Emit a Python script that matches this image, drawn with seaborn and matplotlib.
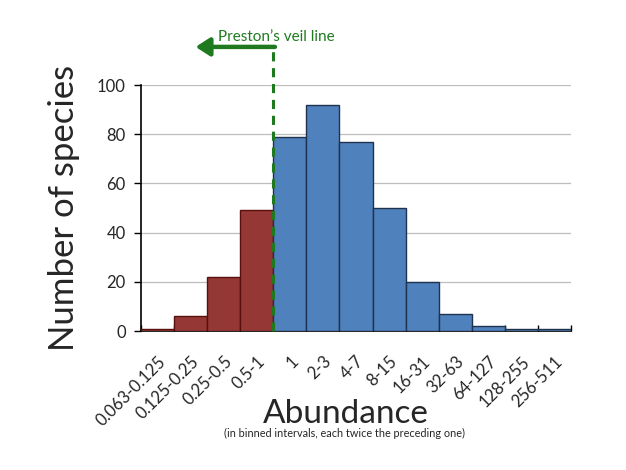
import matplotlib
matplotlib.use("Agg")
import matplotlib.pyplot as plt
import seaborn as sns
import pandas as pd

categories = ["0.063-0.125", "0.125-0.25", "0.25-0.5", "0.5-1", "1", "2-3", "4-7",
              "8-15", "16-31", "32-63", "64-127", "128-255", "256-511"]
species = [1, 6, 22, 49, 79, 92, 77, 50, 20, 7, 2, 1, 1]
groups = ["veiled"] * 4 + ["observed"] * 9

df = pd.DataFrame({"Abundance": categories, "Species": species, "Group": groups})

sns.set_theme(style="white")
plt.rcParams["font.family"] = ["Lato", "DejaVu Sans"]

fig = plt.figure(figsize=(6.26, 4.70), dpi=100)
ax = fig.add_axes([0.2252, 0.2957, 0.6869, 0.5234])

palette = {"veiled": "#953735", "observed": "#4F81BD"}
edges = {"veiled": "#5a0f0f", "observed": "#1f3350"}
sns.barplot(data=df, x="Abundance", y="Species", hue="Group", palette=palette,
            dodge=False, width=1.0, saturation=1, legend=False, ax=ax, zorder=3)
for patch, g in zip(ax.patches, groups):
    patch.set_edgecolor(edges[g])
    patch.set_linewidth(1.0)

ax.set_xlim(-0.5, len(categories) - 0.5)
ax.set_ylim(0, 100)
ax.set_yticks([0, 20, 40, 60, 80, 100])
ax.yaxis.grid(True, color="#bdbdbd", linewidth=0.9, zorder=0)
ax.set_axisbelow(True)
for s in ["top", "right"]:
    ax.spines[s].set_visible(False)
for s in ["left", "bottom"]:
    ax.spines[s].set_color("black")
    ax.spines[s].set_linewidth(1.2)

ax.tick_params(axis="y", direction="out", length=5, width=1, color="black",
               labelsize=12, pad=6, left=True)
ax.tick_params(axis="x", length=0, pad=16)
ax.set_xticks(range(len(categories)))
ax.set_xticklabels(categories, rotation=45, ha="right", rotation_mode="anchor",
                   fontsize=12)
ax.set_xticks([i + 0.5 for i in range(-1, len(categories))], minor=True)
ax.tick_params(axis="x", which="minor", direction="in", length=4, width=1,
               color="black", bottom=True)

ax.set_xlabel("")
ax.set_ylabel("Number of species", fontsize=25, labelpad=12)

fig.text(0.553, 0.1, "Abundance", ha="center", va="baseline", fontsize=24)
fig.text(0.55, 0.0702, "(in binned intervals, each twice the preceding one)",
         ha="center", va="baseline", fontsize=7.8)

# Preston's veil line
green = "#1f7a1f"
ax.plot([3.5, 3.5], [0, 115], color=green, linestyle=(0, (3, 2.2)), linewidth=2.2,
        clip_on=False, zorder=5)
ax.annotate("", xy=(1.15, 115.5), xytext=(3.55, 115.5),
            arrowprops=dict(arrowstyle="-|>,head_length=0.7,head_width=0.45",
                            color=green, lw=3.2, shrinkA=0, shrinkB=0),
            annotation_clip=False)
ax.text(3.58, 118, "Preston\u2019s veil line", color=green, fontsize=11,
        ha="center", va="baseline")

fig.savefig("out.png", dpi=100)
